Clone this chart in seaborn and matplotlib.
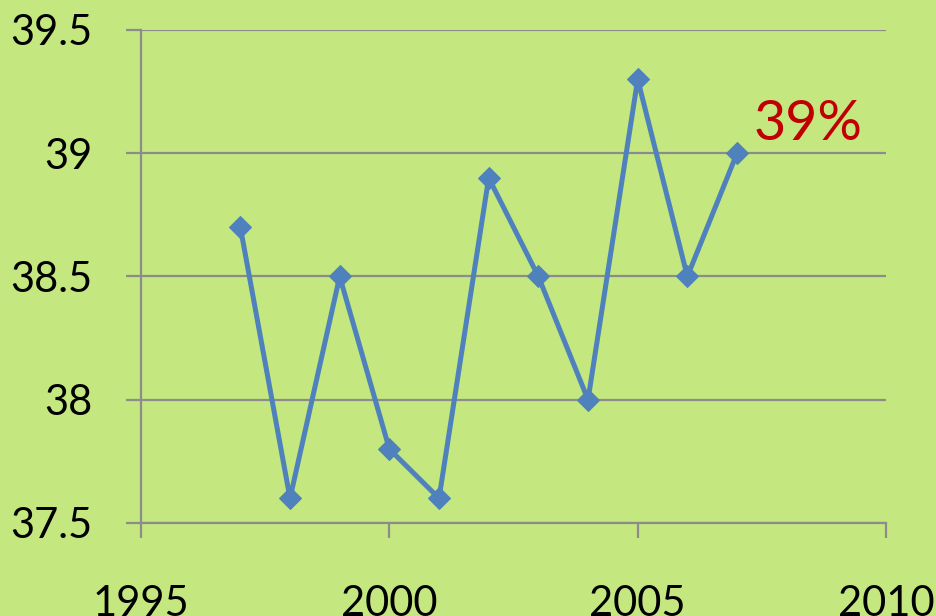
import matplotlib
matplotlib.use("Agg")
import matplotlib.pyplot as plt
import seaborn as sns
import pandas as pd

years = [1997, 1998, 1999, 2000, 2001, 2002, 2003, 2004, 2005, 2006, 2007]
values = [38.7, 37.6, 38.5, 37.8, 37.6, 38.9, 38.5, 38.0, 39.3, 38.5, 39.0]
x_ticks = [1995, 2000, 2005, 2010]
y_ticks = [37.5, 38, 38.5, 39, 39.5]
y_tick_labels = ["37.5", "38", "38.5", "39", "39.5"]
note_text = "39%"

bg = "#C4E77F"
grid_col = "#8C8C8C"
line_col = "#4F81BD"

sns.set_style("white")
plt.rcParams["font.family"] = ["Lato", "DejaVu Sans"]

df = pd.DataFrame({"year": years, "value": values})

fig = plt.figure(figsize=(9.37, 6.16), dpi=100, facecolor=bg)
ax = fig.add_axes([0.1505, 0.151, 0.7951, 0.8003])
ax.set_facecolor(bg)

sns.lineplot(data=df, x="year", y="value", ax=ax, color=line_col,
             linewidth=3.6, marker="D", markersize=11,
             markeredgecolor=line_col, markerfacecolor=line_col)

ax.set_xlim(1995, 2010)
ax.set_ylim(37.5, 39.5)
ax.set_xticks(x_ticks)
ax.set_xticklabels([str(t) for t in x_ticks])
ax.set_yticks(y_ticks)
ax.set_yticklabels(y_tick_labels)
ax.set_xlabel("")
ax.set_ylabel("")

ax.yaxis.grid(True, color=grid_col, linewidth=1.6)
ax.xaxis.grid(False)
ax.set_axisbelow(True)
for s in ["top", "right"]:
    ax.spines[s].set_visible(False)
for s in ["left", "bottom"]:
    ax.spines[s].set_color(grid_col)
    ax.spines[s].set_linewidth(1.6)

ax.tick_params(axis="both", direction="out", length=11, width=1.6,
               color=grid_col, labelsize=30, labelcolor="black",
               bottom=True, left=True)
ax.tick_params(axis="x", pad=34)
ax.tick_params(axis="y", pad=24)

ax.annotate(note_text, xy=(years[-1], values[-1]), xytext=(12, 2),
            textcoords="offset points", color="#C00000", fontsize=40,
            ha="left", va="bottom")

fig.savefig("out.png", dpi=100, facecolor=bg)
